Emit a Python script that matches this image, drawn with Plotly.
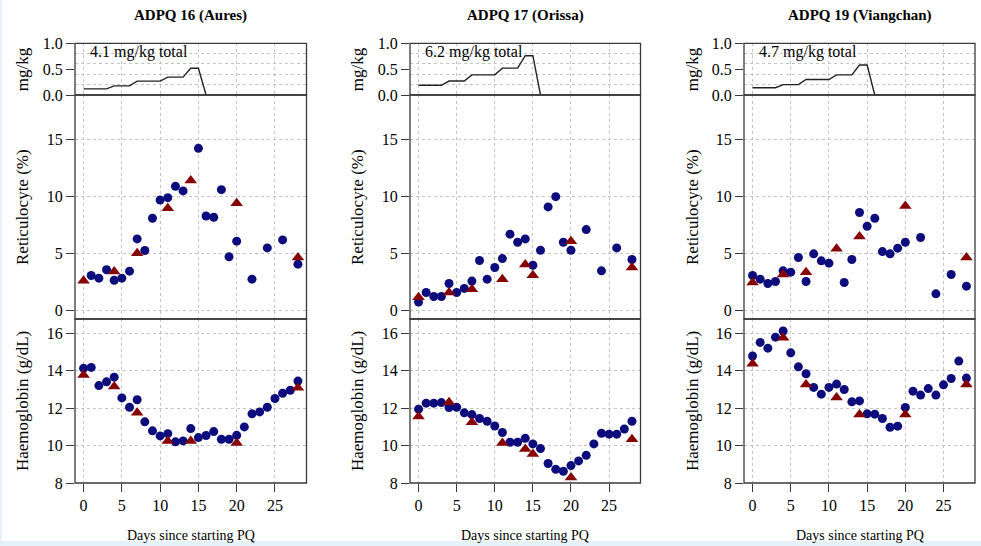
import plotly.graph_objects as go

# ---------------- data ----------------
panel_titles = ["ADPQ 16 (Aures)", "ADPQ 17 (Orissa)", "ADPQ 19 (Viangchan)"]
dose_labels = ["4.1 mg/kg total", "6.2 mg/kg total", "4.7 mg/kg total"]

dose_days = list(range(29))
dose_16 = [0.118, 0.118, 0.118, 0.118, 0.176, 0.176, 0.176, 0.268, 0.268, 0.268, 0.268,
           0.346, 0.346, 0.346, 0.516, 0.516, 0, 0, 0, 0, 0, 0, 0, 0, 0, 0, 0, 0, 0]
dose_17 = [0.188, 0.188, 0.188, 0.188, 0.27, 0.27, 0.27, 0.39, 0.39, 0.39, 0.39,
           0.52, 0.52, 0.52, 0.76, 0.76, 0, 0, 0, 0, 0, 0, 0, 0, 0, 0, 0, 0, 0]
dose_19 = [0.14, 0.14, 0.14, 0.14, 0.2, 0.2, 0.2, 0.3, 0.3, 0.3, 0.3,
           0.39, 0.39, 0.39, 0.58, 0.58, 0, 0, 0, 0, 0, 0, 0, 0, 0, 0, 0, 0, 0]

# Reticulocyte (%) - circles
ret_c_days_16 = [1, 2, 3, 4, 5, 6, 7, 8, 9, 10, 11, 12, 13, 15, 16, 17, 18, 19, 20, 22, 24, 26, 28]
ret_c_16 = [3.08, 2.85, 3.58, 2.67, 2.85, 3.46, 6.28, 5.26, 8.08, 9.68, 9.88, 10.87, 10.47,
            14.19, 8.28, 8.17, 10.58, 4.71, 6.08, 2.76, 5.49, 6.19, 4.07]
ret_c_days_17 = [0, 1, 2, 3, 4, 5, 6, 7, 8, 9, 10, 11, 12, 13, 14, 15, 16, 17, 18, 19, 20, 22, 24, 26, 28]
ret_c_17 = [0.76, 1.6, 1.25, 1.25, 2.38, 1.6, 1.95, 2.59, 4.39, 2.76, 3.78, 4.56, 6.69, 5.99,
            6.28, 3.98, 5.29, 9.07, 9.97, 5.99, 5.29, 7.09, 3.49, 5.49, 4.48]
ret_c_days_19 = [0, 1, 2, 3, 4, 5, 6, 7, 8, 9, 10, 12, 13, 14, 15, 16, 17, 18, 19, 20, 22, 24, 26, 28]
ret_c_19 = [3.08, 2.76, 2.38, 2.56, 3.49, 3.37, 4.65, 2.56, 4.97, 4.36, 4.16, 2.47, 4.48,
            8.58, 7.38, 8.08, 5.17, 4.97, 5.47, 5.99, 6.40, 1.48, 3.17, 2.15]

# Reticulocyte (%) - triangles
ret_t_days_16 = [0, 4, 7, 11, 14, 20, 28]
ret_t_16 = [2.62, 3.43, 5.03, 8.95, 11.37, 9.39, 4.65]
ret_t_days_17 = [0, 4, 7, 11, 14, 15, 20, 28]
ret_t_17 = [1.19, 1.6, 1.89, 2.76, 4.04, 3.11, 6.08, 3.78]
ret_t_days_19 = [0, 4, 7, 11, 14, 20, 28]
ret_t_19 = [2.47, 3.17, 3.37, 5.41, 6.48, 9.16, 4.65]

# Haemoglobin (g/dL) - circles (days 0..28)
hb_c_days = list(range(29))
hb_c_16 = [14.13, 14.18, 13.21, 13.41, 13.66, 12.55, 12.05, 12.45, 11.27, 10.79, 10.52, 10.64,
           10.20, 10.25, 10.91, 10.43, 10.54, 10.75, 10.34, 10.34, 10.55, 11.0, 11.70, 11.80,
           12.05, 12.52, 12.80, 12.96, 13.45]
hb_c_17 = [11.95, 12.27, 12.27, 12.30, 12.04, 12.05, 11.75, 11.66, 11.45, 11.30, 11.05, 10.70,
           10.18, 10.18, 10.39, 10.09, 9.84, 9.04, 8.73, 8.63, 8.93, 9.18, 9.48, 10.09,
           10.66, 10.61, 10.61, 10.89, 11.30]
hb_c_19 = [14.79, 15.52, 15.21, 15.80, 16.13, 14.96, 14.21, 13.84, 13.11, 12.75, 13.11, 13.29,
           13.0, 12.34, 12.39, 11.70, 11.68, 11.45, 10.98, 11.04, 12.04, 12.91, 12.70, 13.05,
           12.70, 13.25, 13.59, 14.52, 13.61]

# Haemoglobin (g/dL) - triangles
hb_t_days_16 = [0, 4, 7, 11, 14, 20, 28]
hb_t_16 = [13.77, 13.16, 11.75, 10.25, 10.25, 10.14, 13.09]
hb_t_days_17 = [0, 4, 7, 11, 14, 15, 20, 28]
hb_t_17 = [11.55, 12.32, 11.25, 10.14, 9.82, 9.55, 8.30, 10.34]
hb_t_days_19 = [0, 4, 7, 11, 14, 20, 28]
hb_t_19 = [14.38, 15.77, 13.27, 12.57, 11.66, 11.66, 13.27]

x_ticks = [0, 5, 10, 15, 20, 25]

# ---------------- figure ----------------
W, H = 981, 546
FONT = "Liberation Serif, Times New Roman, serif"
CIRC = "#0c0c7c"
TRI = "#870404"
LINE = "#3a3a3a"
GRID = "#c4c4c4"

panels = [
    (dose_16, ret_c_days_16, ret_c_16, ret_t_days_16, ret_t_16, hb_c_16, hb_t_days_16, hb_t_16),
    (dose_17, ret_c_days_17, ret_c_17, ret_t_days_17, ret_t_17, hb_c_17, hb_t_days_17, hb_t_17),
    (dose_19, ret_c_days_19, ret_c_19, ret_t_days_19, ret_t_19, hb_c_19, hb_t_days_19, hb_t_19),
]

x_px = [(75, 306.5), (410, 640.5), (744, 975)]
y_px = [(43.3, 95), (95, 319), (319, 483)]  # dose, retic, hb (top, bottom)

fig = go.Figure()
layout = dict(width=W, height=H, autosize=False,
              margin=dict(l=0, r=0, t=0, b=0, pad=0, autoexpand=False),
              paper_bgcolor="white", plot_bgcolor="rgba(0,0,0,0)", showlegend=False,
              font=dict(family=FONT, color="black", size=16))
annotations = []
shapes = []

yranges = [[0, 1.0], [-0.72, 18.85], [8, 16.77]]
ytickvals = [[0, 0.5, 1.0], [0, 5, 10, 15], [8, 10, 12, 14, 16]]
yticktext = [["0.0", "0.5", "1.0"], ["0", "5", "10", "15"], ["8", "10", "12", "14", "16"]]
ytitles = ["mg/kg", "Reticulocyte (%)", "Haemoglobin (g/dL)"]

for c, p in enumerate(panels):
    dose, rcd, rc, rtd, rt, hc, htd, ht = p
    for r in range(3):
        k = c * 3 + r + 1
        xa = "xaxis" if k == 1 else f"xaxis{k}"
        ya = "yaxis" if k == 1 else f"yaxis{k}"
        xref = "x" if k == 1 else f"x{k}"
        yref = "y" if k == 1 else f"y{k}"
        xd = [x_px[c][0] / W, x_px[c][1] / W]
        yd = [(H - y_px[r][1]) / H, (H - y_px[r][0]) / H]
        xax = dict(domain=xd, anchor=yref, range=[-1.12, 29.12], tickvals=x_ticks,
                   showgrid=True, gridcolor=GRID, griddash="dot", gridwidth=1,
                   zeroline=False, showline=False, automargin=False)
        if r == 2:
            xax.update(ticks="outside", ticklen=8, tickcolor=LINE, tickwidth=1.2,
                       showticklabels=True, tickfont=dict(family=FONT, size=16))
        else:
            xax.update(ticks="", showticklabels=False)
        yax = dict(domain=yd, anchor=xref, range=yranges[r], tickvals=ytickvals[r],
                   ticktext=yticktext[r], zeroline=False, showline=False, automargin=False,
                   ticks="outside", ticklen=8,
                   tickcolor=LINE, tickwidth=1.2, tickfont=dict(family=FONT, size=16))
        if r == 0:
            yax.update(showgrid=False,
                       minor=dict(tickvals=[0.2, 0.4, 0.6, 0.8], showgrid=True,
                                  gridcolor=GRID, griddash="dot", gridwidth=1, ticks=""))
        else:
            yax.update(showgrid=True, gridcolor=GRID, griddash="dot", gridwidth=1)
        layout[xa] = xax
        layout[ya] = yax

        # panel box
        shapes.append(dict(type="rect", xref=f"{xref} domain", yref=f"{yref} domain",
                           x0=0, x1=1, y0=0, y1=1, line=dict(color=LINE, width=1.3),
                           fillcolor="rgba(0,0,0,0)", layer="above"))

        if r == 0:
            fig.add_trace(go.Scatter(x=dose_days, y=dose, mode="lines",
                                     line=dict(color="#222222", width=1.4),
                                     xaxis=xref, yaxis=yref, cliponaxis=False))
            annotations.append(dict(x=0.6, y=0.83, xref=xref, yref=yref, text=dose_labels[c],
                                    showarrow=False, xanchor="left", yanchor="middle",
                                    font=dict(family=FONT, size=16, color="black")))
        elif r == 1:
            fig.add_trace(go.Scatter(x=rcd, y=rc, mode="markers",
                                     marker=dict(symbol="circle", size=9, color=CIRC),
                                     xaxis=xref, yaxis=yref))
            fig.add_trace(go.Scatter(x=rtd, y=rt, mode="markers",
                                     marker=dict(symbol="triangle-up", size=11, color=TRI),
                                     xaxis=xref, yaxis=yref))
        else:
            fig.add_trace(go.Scatter(x=hb_c_days, y=hc, mode="markers",
                                     marker=dict(symbol="circle", size=9, color=CIRC),
                                     xaxis=xref, yaxis=yref))
            fig.add_trace(go.Scatter(x=htd, y=ht, mode="markers",
                                     marker=dict(symbol="triangle-up", size=11, color=TRI),
                                     xaxis=xref, yaxis=yref))

        # rotated y-axis title
        ycen = (y_px[r][0] + y_px[r][1]) / 2
        annotations.append(dict(x=(22 + 335 * c) / W, y=(H - ycen) / H, xref="paper", yref="paper",
                                text=ytitles[r], textangle=-90, showarrow=False,
                                xanchor="center", yanchor="middle",
                                font=dict(family=FONT, size=17, color="black")))

    xc = (x_px[c][0] + x_px[c][1]) / 2 / W
    annotations.append(dict(x=xc, y=(H - 15) / H, xref="paper", yref="paper",
                            text="<b>" + panel_titles[c] + "</b>", showarrow=False,
                            xanchor="center", yanchor="middle",
                            font=dict(family=FONT, size=15, color="black")))
    annotations.append(dict(x=xc, y=(H - 535) / H, xref="paper", yref="paper",
                            text="Days since starting PQ", showarrow=False,
                            xanchor="center", yanchor="middle",
                            font=dict(family=FONT, size=14, color="black")))

# light blue frame edges of the screenshot
shapes.append(dict(type="rect", xref="paper", yref="paper", x0=0, x1=1, y0=0, y1=5 / H,
                   fillcolor="#e6f2fb", line=dict(width=0), layer="below"))
shapes.append(dict(type="rect", xref="paper", yref="paper", x0=0, x1=2 / W, y0=0, y1=1,
                   fillcolor="#e6f2fb", line=dict(width=0), layer="below"))

layout["annotations"] = annotations
layout["shapes"] = shapes
fig.update_layout(**layout)
fig.write_html("out.html", config={"displayModeBar": False},
               post_script="document.body.style.margin='0';document.body.style.overflow='hidden';")
